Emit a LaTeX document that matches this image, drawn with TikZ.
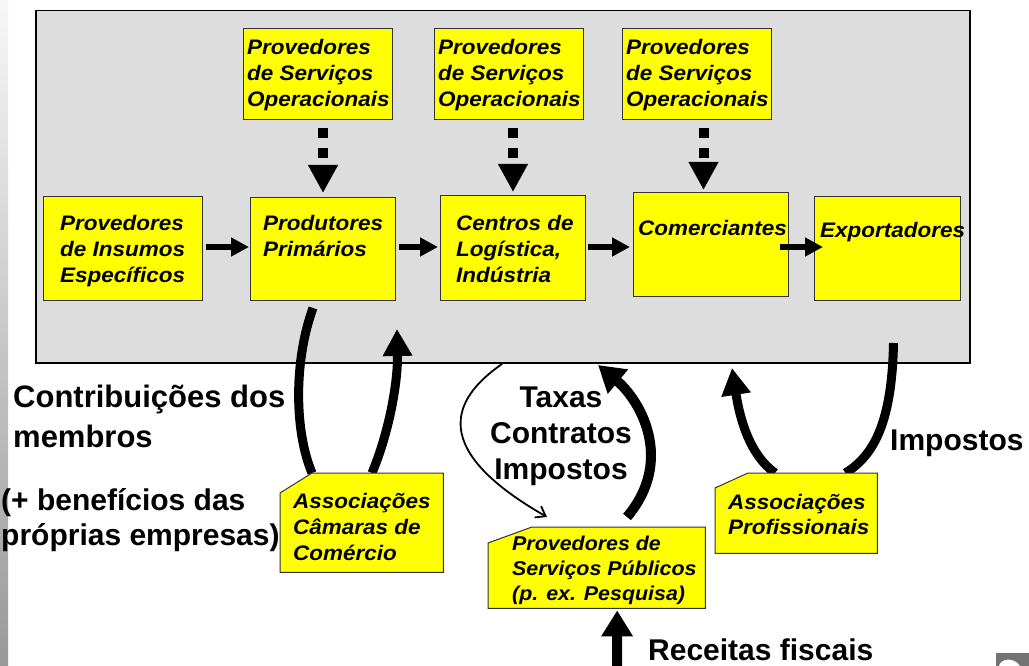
\documentclass[tikz,border=0pt]{standalone}
\usepackage{fontspec}
\setmainfont{Liberation Sans}
\newfontfamily\boxfont{Liberation Sans}[FakeStretch=1.07]
\usetikzlibrary{arrows.meta,calc}
\definecolor{frameGrey}{HTML}{DDDDDD}
\definecolor{boxYellow}{HTML}{FFFF00}
\definecolor{boxLine}{HTML}{333333}
\newcommand\lns[1]{\begin{tabular}[t]{@{}l@{}}#1\end{tabular}}
\newcommand\clns[1]{\begin{tabular}[t]{@{}c@{}}#1\end{tabular}}
\tikzset{
  framebox/.style={draw=black, line width=1.5pt, fill=frameGrey, inner sep=0pt, anchor=north west},
  ybox/.style={draw=boxLine, line width=1pt, fill=boxYellow, inner sep=0pt, anchor=north west},
  yshape/.style={draw=boxLine, line width=1pt, fill=boxYellow},
  anchorbox/.style={inner sep=0pt, anchor=north west},
  btxt/.style={inner sep=0pt, anchor=base west, font=\boxfont\bfseries\itshape\fontsize{21}{26}\selectfont},
  stxt/.style={inner sep=0pt, anchor=base west, font=\boxfont\bfseries\itshape\fontsize{20}{25}\selectfont},
  lbl/.style={inner sep=0pt, anchor=base west, font=\bfseries\fontsize{30}{36}\selectfont},
  harrow/.style={line width=6pt, -{Triangle[length=18pt,width=18pt]}},
  darrow/.style={line width=10pt, dash pattern=on 10pt off 10pt, -{Triangle[length=28pt,width=28pt]}},
  tline/.style={line width=9pt},
  tarrow/.style={line width=9pt, -{Triangle[length=27pt,width=28pt]}},
  tarrowb/.style={line width=10pt, -{Triangle[length=26pt,width=30pt]}},
  thinarrow/.style={line width=1.8pt, -{Straight Barb[length=9pt,width=13pt]}},
}
\begin{document}
\begin{tikzpicture}[x=1pt,y=-1pt]
\useasboundingbox (0,0) rectangle (1029,666);
\fill[white] (0,0) rectangle (1029,666);
\shade[top color=black!3, bottom color=black!40] (0,0) rectangle (8,666);
% corner logo fragment
\fill[black!55] (996,653) rectangle (1029,666);
\fill[white] (999,666) .. controls (1001,658) and (1014,657) .. (1020,666) -- cycle;

% frame
\node[framebox, minimum width=934pt, minimum height=352pt] (frame) at (35,10) {};

% top boxes
\node[ybox, minimum width=149pt, minimum height=91pt] (sop1) at (243,28) {};
\node[ybox, minimum width=149pt, minimum height=91pt] (sop2) at (434,28) {};
\node[ybox, minimum width=149pt, minimum height=91pt] (sop3) at (622,28) {};
\node[btxt] (sop1t) at (247,55) {\lns{Provedores\\de Serviços\\Operacionais}};
\node[btxt] (sop2t) at (438,55) {\lns{Provedores\\de Serviços\\Operacionais}};
\node[btxt] (sop3t) at (626,55) {\lns{Provedores\\de Serviços\\Operacionais}};

% main row
\node[ybox, minimum width=159pt, minimum height=104pt] (ins) at (43,196) {};
\node[ybox, minimum width=145pt, minimum height=103pt] (prod) at (250,197) {};
\node[ybox, minimum width=145pt, minimum height=105pt] (cent) at (440,195) {};
\node[ybox, minimum width=155pt, minimum height=104pt] (com) at (633,192) {};
\node[ybox, minimum width=146pt, minimum height=104pt] (exp) at (814,196) {};
\node[btxt] (inst) at (60,230) {\lns{Provedores\\de Insumos\\Específicos}};
\node[btxt] (prodt) at (263,230) {\lns{Produtores\\Primários}};
\node[btxt] (centt) at (456,230) {\lns{Centros de\\Logística,\\Indústria}};
\node[btxt] (comt) at (638,236) {Comerciantes};
\node[btxt] (expt) at (820,237) {Exportadores};

% horizontal arrows
\draw[harrow] ([xshift=3pt]ins.east |- 0,247) -- ([xshift=-1pt]prod.west |- 0,247);
\draw[harrow] ([xshift=3pt]prod.east |- 0,247) -- ([xshift=-2pt]cent.west |- 0,247);
\draw[harrow] ([xshift=2pt]cent.east |- 0,247) -- ([xshift=-3pt]com.west |- 0,247);
\draw[harrow] ([xshift=-9pt]com.east |- 0,247) -- ([xshift=9pt]exp.west |- 0,247);

% dashed arrows
\draw[darrow] ([yshift=-8pt]prod.north |- sop1.south) -- ([yshift=4pt]prod.north);
\draw[darrow] ([yshift=-8pt]cent.north |- sop2.south) -- ([yshift=3pt]cent.north);
\draw[darrow] ([xshift=6.5pt,yshift=-8pt]sop3.south) -- ([xshift=6.5pt,yshift=2pt]sop3.south |- com.north);

% bottom boxes (anchors)
\node[anchorbox, minimum width=163pt, minimum height=99pt] (acc) at (280,473) {};
\node[anchorbox, minimum width=217pt, minimum height=81pt] (psp) at (488,527) {};
\node[anchorbox, minimum width=162pt, minimum height=80pt] (apr) at (715,473) {};

% curved connectors
\coordinate (c2end) at (397,329);
\coordinate (c3s) at (502,364);
\coordinate (c4end) at (598,365);
\coordinate (c6end) at (732,368);
\coordinate (rcs) at (617,670);
\draw[tline] ([xshift=-10pt,yshift=-7pt]prod.south) .. controls (294,360) and (294,430) .. ([xshift=32pt]acc.north west);
\draw[tarrow] ([xshift=92pt]acc.north west) .. controls (390,430) and (398,380) .. (c2end);
\draw[thinarrow] (c3s) .. controls (450,400) and (430,450) .. ([xshift=59pt,yshift=10pt]psp.north west);
\draw[tarrowb] ([xshift=139pt,yshift=10pt]psp.north west) .. controls (675,460) and (640,400) .. (c4end);
\draw[tline] ([xshift=6pt,yshift=-42pt]exp.south) .. controls (892,420) and (875,455) .. ([xshift=-32pt]apr.north east);
\draw[tarrow] ([xshift=60pt]apr.north west) .. controls (750,455) and (740,420) .. (c6end);
\draw[tarrowb] (rcs) -- ([xshift=20.5pt,yshift=-2pt]psp.south);

% bottom box shapes
\draw[yshape] (acc.south west) -- ([yshift=-20pt]acc.north west) -- ([xshift=32pt]acc.north west) -- (acc.north east) -- (acc.south east) -- cycle;
\draw[yshape] (psp.south west) -- ([yshift=-16pt]psp.north west) -- ([xshift=44pt]psp.north west) -- (psp.north east) -- (psp.south east) -- cycle;
\draw[yshape] (apr.south west) -- ([yshift=-15pt]apr.north west) -- ([xshift=33pt]apr.north west) -- (apr.north east) -- (apr.south east) -- cycle;
\node[btxt] (acct) at (293,508) {\lns{Associações\\Câmaras de\\Comércio}};
\node[stxt] (pspt) at (512,550) {\lns{Provedores de\\Serviços Públicos\\(p. ex. Pesquisa)}};
\node[btxt, font=\boxfont\bfseries\itshape\fontsize{21}{25}\selectfont] (aprt) at (728,509) {\lns{Associações\\Profissionais}};

% labels
\node[lbl, font=\bfseries\fontsize{31}{40}\selectfont] (contrib) at (13,407) {\lns{Contribuições dos\\membros}};
\node[lbl, font=\bfseries\fontsize{30}{35}\selectfont] (benef) at (1,510) {\lns{(+ benefícios das\\próprias empresas)}};
\node[lbl, anchor=base] (taxas) at (561,407) {\clns{Taxas\\Contratos\\Impostos}};
\node[lbl] (imp) at (890,450) {Impostos};
\node[lbl] (rec) at (648,660) {Receitas fiscais};
\end{tikzpicture}
\end{document}
